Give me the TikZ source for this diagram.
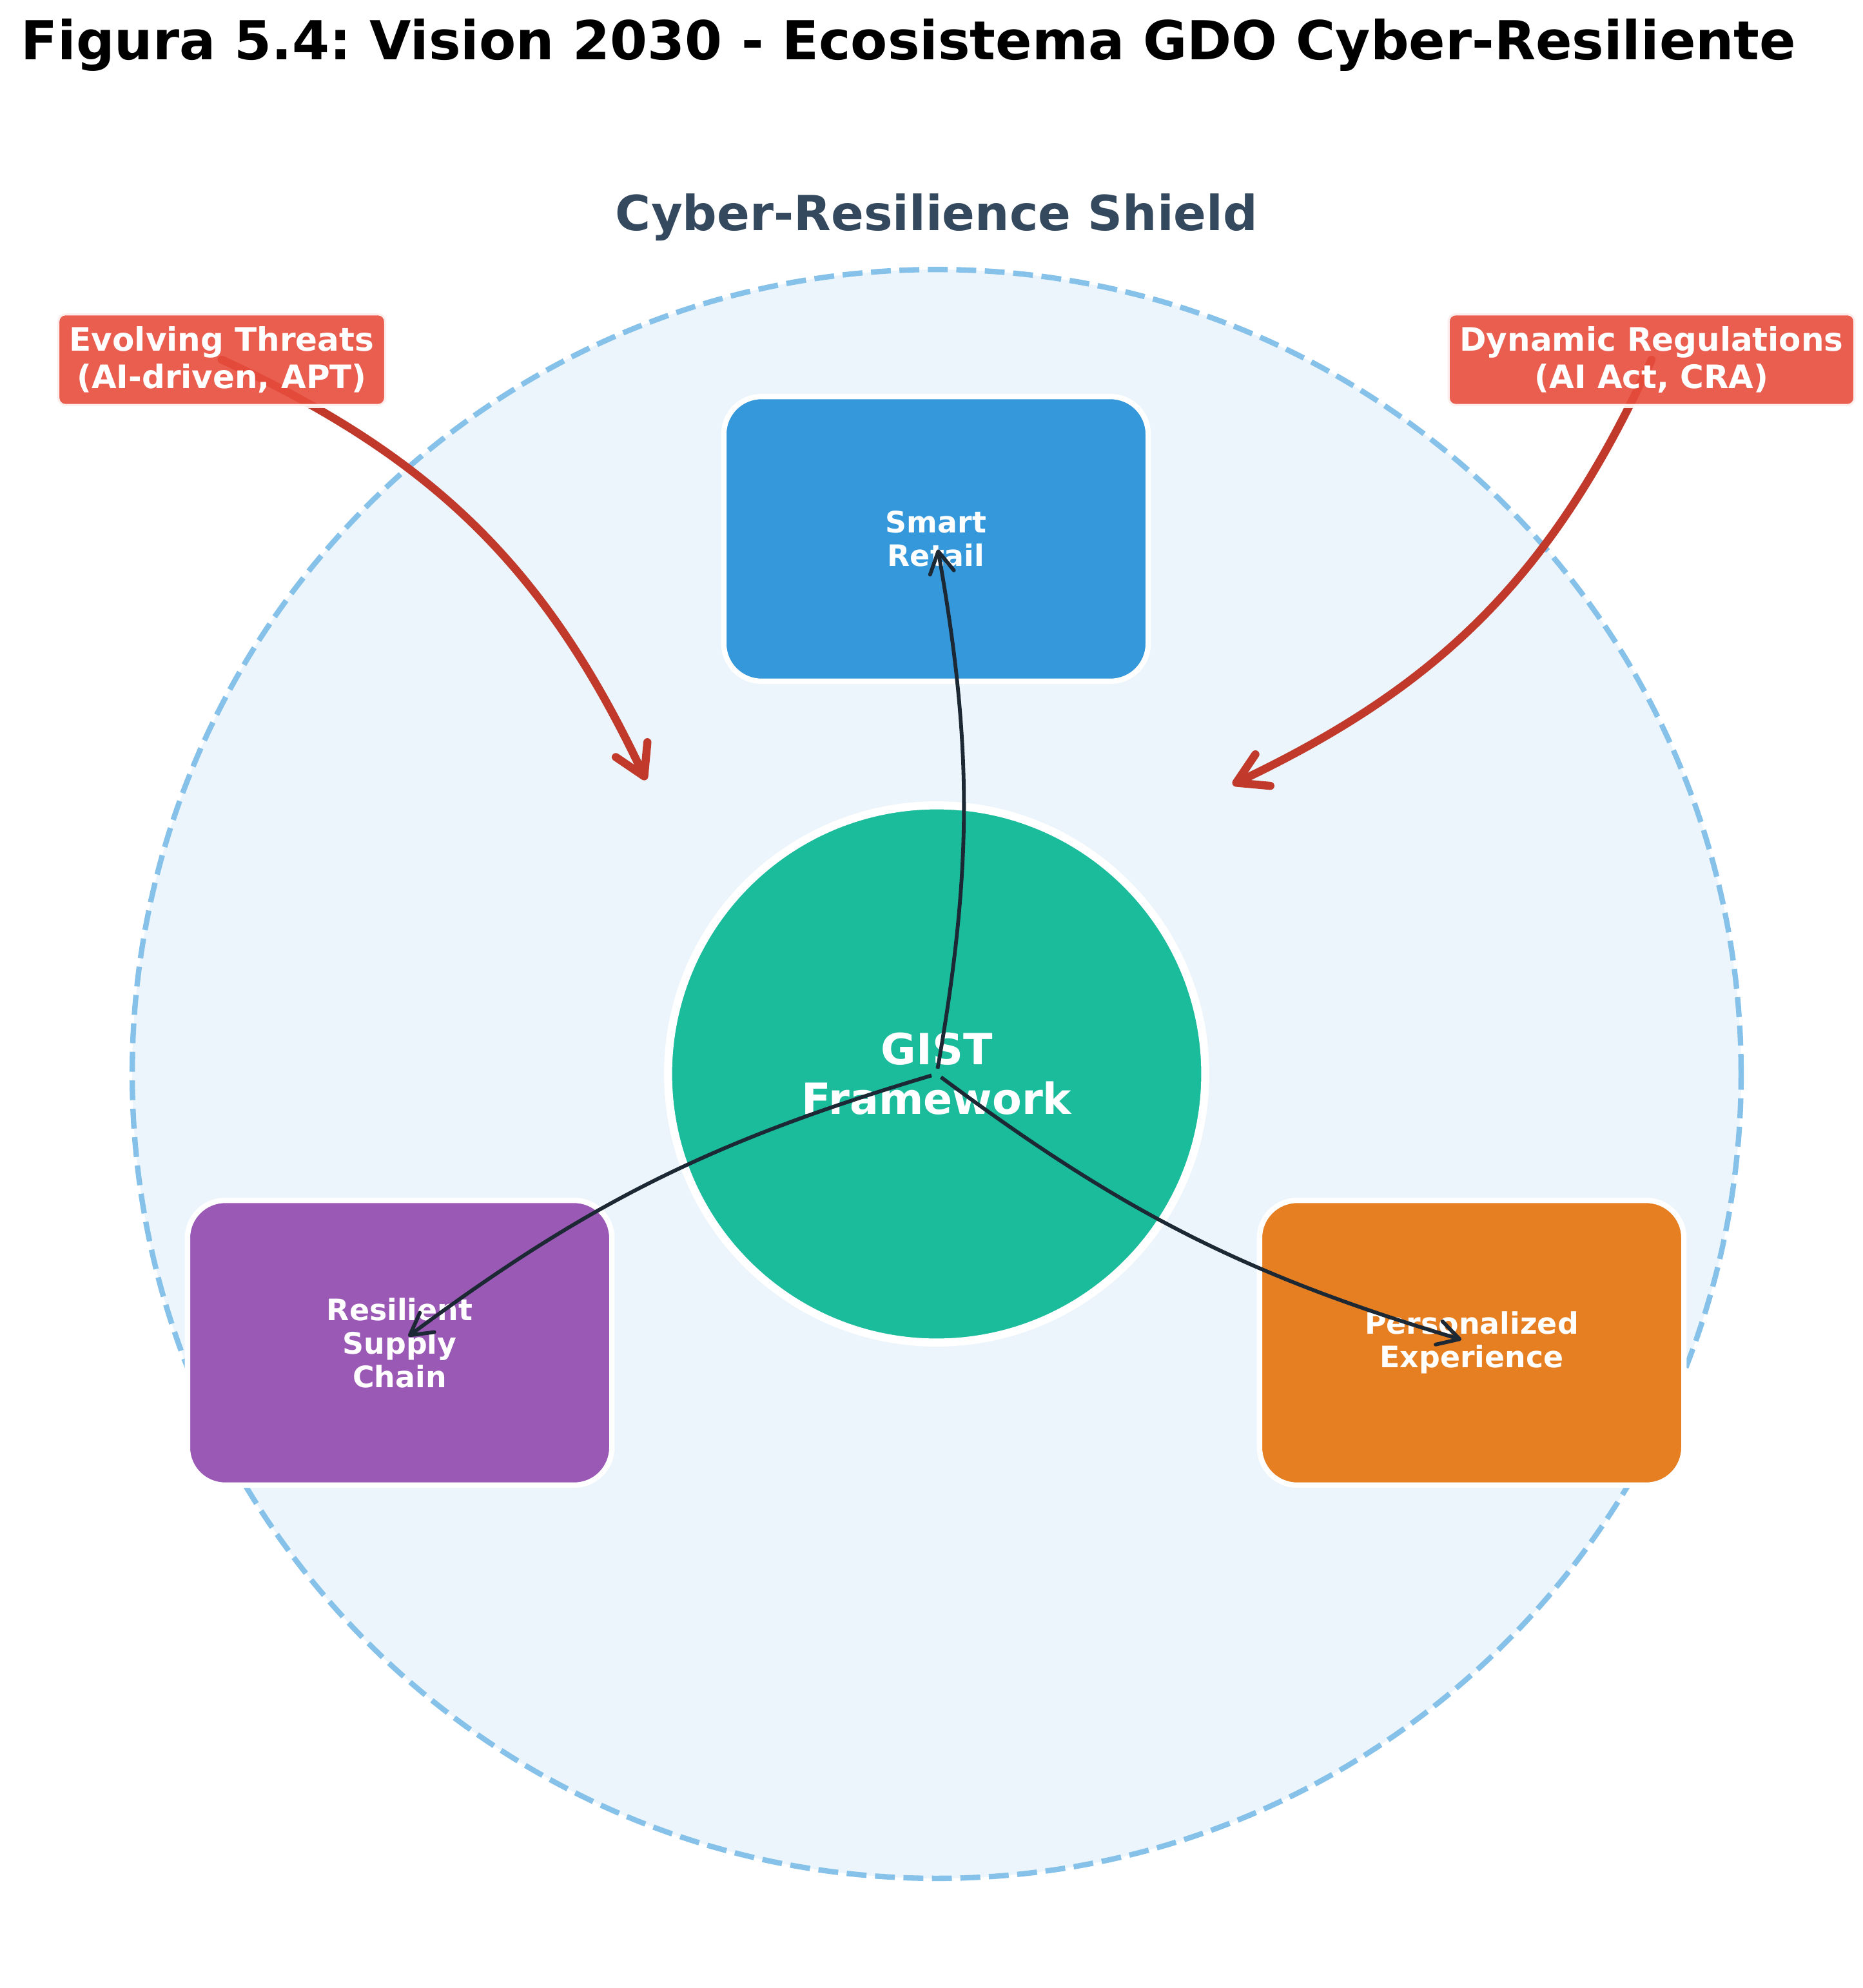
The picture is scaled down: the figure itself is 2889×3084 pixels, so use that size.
\documentclass[tikz,border=0pt]{standalone}
\usepackage{fontspec}
\setmainfont{DejaVu Sans}
\usetikzlibrary{arrows.meta}
\frenchspacing

\definecolor{shieldfill}{HTML}{EBF5FB}
\definecolor{shieldedge}{HTML}{85C1E9}
\definecolor{shieldtext}{HTML}{34495E}
\definecolor{retailblue}{HTML}{3498DB}
\definecolor{supplypurple}{HTML}{9B59B6}
\definecolor{experienceorange}{HTML}{E67E22}
\definecolor{gistgreen}{HTML}{1ABC9C}
\definecolor{threatred}{HTML}{E74C3C}
\definecolor{threatdark}{HTML}{C0392B}
\definecolor{linkdark}{HTML}{1C2833}

\begin{document}
\begin{tikzpicture}[x=0.24pt, y=-0.24pt,
    pillar/.style={draw=white, line width=2pt, rounded corners=14pt,
        minimum width=158pt, minimum height=106pt, text=white, align=center,
        font=\fontsize{11}{12.5}\selectfont\bfseries},
    hub/.style={circle, draw=white, line width=3pt, fill=gistgreen,
        minimum size=200pt, text=white, align=center,
        font=\fontsize{16}{18.5}\selectfont\bfseries},
    pressure/.style={draw=white, draw opacity=0.9, fill=threatred, fill opacity=0.9,
        text opacity=1, line width=1.5pt, rounded corners=3pt, text=white,
        align=center, inner xsep=4.5pt, inner ysep=2pt, minimum height=34.5pt,
        font=\fontsize{12}{14}\selectfont\bfseries},
    link/.style={draw=linkdark, line width=1.4pt, shorten <=2pt, shorten >=4pt,
        -{Straight Barb[length=8pt, width=9pt, round]}},
    pressurearrow/.style={draw=threatdark, line width=3pt, line cap=round,
        -{Straight Barb[length=11pt, width=13pt, round]}}]
    \useasboundingbox (0,0) rectangle (2889,3084);

    % title and shield
    \node[anchor=base west, inner sep=0pt, font=\fontsize{20}{24}\selectfont\bfseries] (title)
        at (32,93) {Figura 5.4: Vision 2030 - Ecosistema GDO Cyber-Resiliente};
    \draw[shieldedge, fill=shieldfill, line width=2pt, dash pattern=on 7.4pt off 3.2pt]
        (1453,1666) circle[radius=299.5pt];
    \node[anchor=base, text=shieldtext, font=\fontsize{18}{22}\selectfont\bfseries]
        (shieldlabel) at (1453,358) {Cyber-Resilience Shield};

    % external pressures
    \coordinate (threatspos) at (344,558);
    \coordinate (regspos) at (2562,558);
    \coordinate (threatstip) at (1002,1210);
    \coordinate (regstip) at (1912,1217);
    \draw[pressurearrow] (threatspos) to[bend left=20] (threatstip);
    \draw[pressurearrow] (regspos) to[bend left=20] (regstip);
    \node[pressure] (threats) at (threatspos) {Evolving Threats\\(AI-driven, APT)};
    \node[pressure] (regs) at (regspos) {Dynamic Regulations\\(AI Act, CRA)};

    % pillars and hub
    \node[pillar, fill=retailblue] (retail) at (1452,836) {Smart\\Retail};
    \node[pillar, fill=supplypurple] (supply) at (620,2083) {Resilient\\Supply\\Chain};
    \node[pillar, fill=experienceorange] (experience) at (2283,2083) {Personalized\\Experience};
    \node[hub] (gist) at (1453,1666) {GIST\\Framework};

    \draw[link] (gist.center) to[bend right=10] (retail.center);
    \draw[link] (gist.center) to[bend right=10] (supply.center);
    \draw[link] (gist.center) to[bend right=10] (experience.center);
\end{tikzpicture}
\end{document}
